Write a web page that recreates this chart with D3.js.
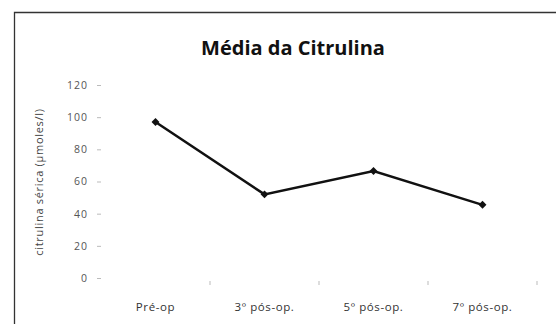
<!DOCTYPE html>
<html>
<head>
<meta charset="utf-8">
<script src="https://cdn.jsdelivr.net/npm/d3@7"></script>
<style>
  body { margin: 0; background: #fff; }
  svg { display: block; }
</style>
</head>
<body>
<svg id="chart" width="556" height="324"></svg>
<script>
const categories = ['Pré-op', '3º pós-op.', '5º pós-op.', '7º pós-op.']
const values = [97, 52, 66.5, 45.5]
const yTicks = [0, 20, 40, 60, 80, 100, 120]

const W = 556, H = 324
const margin = { top: 85, right: 20, bottom: 46, left: 101 }
const innerW = 436
const innerH = H - margin.top - margin.bottom

const svg = d3.select('#chart')

// chart frame
svg.append('path')
  .attr('d', `M14.5,${H + 2}V12.5H${W + 2}`)
  .attr('fill', 'none')
  .attr('stroke', '#333')
  .attr('stroke-width', 1.3)

svg.append('text')
  .attr('x', 293)
  .attr('y', 55)
  .attr('text-anchor', 'middle')
  .attr('font-family', 'Open Sans, sans-serif')
  .attr('font-weight', 'bold')
  .attr('font-size', 20)
  .attr('fill', '#111')
  .text('Média da Citrulina')

const g = svg.append('g').attr('transform', `translate(${margin.left},${margin.top})`)

const xScale = d3.scaleBand().domain(categories).range([0, innerW])
const yScale = d3.scaleLinear().domain([0, 120]).range([innerH, 0])

// y axis: ticks only, no domain line
const yAxis = g.append('g')
  .call(d3.axisLeft(yScale).tickValues(yTicks).tickSize(4).tickPadding(9))
yAxis.select('.domain').remove()
yAxis.selectAll('line').attr('stroke', '#bbb')
yAxis.selectAll('text')
  .attr('fill', '#555')
  .attr('font-family', 'Open Sans, sans-serif')
  .attr('font-size', 10.5)
  .attr('letter-spacing', 1)

// x axis: ticks between categories
const xAxis = g.append('g').attr('transform', `translate(0,${innerH + 3})`)
const bounds = d3.range(1, categories.length + 1).map(i => i * xScale.step())
xAxis.selectAll('line')
  .data(bounds)
  .join('line')
  .attr('x1', d => d).attr('x2', d => d)
  .attr('y1', 0).attr('y2', 4)
  .attr('stroke', '#bbb')
xAxis.selectAll('text')
  .data(categories)
  .join('text')
  .attr('x', d => xScale(d) + xScale.bandwidth() / 2)
  .attr('y', 30)
  .attr('text-anchor', 'middle')
  .attr('font-family', 'Open Sans, sans-serif')
  .attr('font-size', 11.5)
  .attr('letter-spacing', 0.6)
  .attr('fill', '#333')
  .text(d => d)

g.append('text')
  .attr('transform', 'rotate(-90)')
  .attr('x', -97)
  .attr('y', -58)
  .attr('text-anchor', 'middle')
  .attr('font-family', 'Open Sans, sans-serif')
  .attr('font-size', 11)
  .attr('letter-spacing', 0.7)
  .attr('fill', '#444')
  .text('citrulina sérica (µmoles/l)')

const line = d3.line()
  .x((d, i) => xScale(categories[i]) + xScale.bandwidth() / 2)
  .y(d => yScale(d))

g.append('path')
  .datum(values)
  .attr('d', line)
  .attr('fill', 'none')
  .attr('stroke', '#111')
  .attr('stroke-width', 2.5)

g.selectAll('path.marker')
  .data(values)
  .join('path')
  .attr('class', 'marker')
  .attr('d', d3.symbol(d3.symbolDiamond2, 40))
  .attr('transform', (d, i) => `translate(${xScale(categories[i]) + xScale.bandwidth() / 2},${yScale(d)})`)
  .attr('fill', '#111')
</script>
</body>
</html>
